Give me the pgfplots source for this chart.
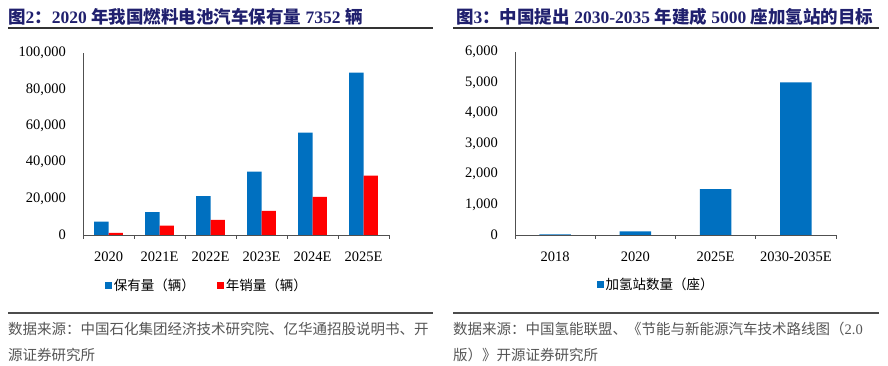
\documentclass[border=0pt]{standalone}
\usepackage{pgfplots}
\pgfplotsset{compat=1.18}
\usepackage{fontspec}
\setmainfont{Liberation Serif}
\newfontfamily\cjk{Noto Sans CJK SC}
\definecolor{barblue}{RGB}{0,112,192}
\definecolor{barred}{RGB}{255,0,0}
\definecolor{titlec}{RGB}{32,32,110}
\definecolor{axisc}{RGB}{80,80,80}
\definecolor{srcc}{RGB}{85,85,85}
\pgfplotsset{
  sqlegend/.style={legend image code/.code={\fill[fill=#1] (0pt,-3.5pt) rectangle (7pt,3.5pt);}},
  panel/.style={
    scale only axis,
    anchor=south west,
    ymin=0,
    axis x line*=bottom,
    axis y line*=left,
    axis line style={axisc, line width=0.8pt},
    x tick label as interval=true,
    tick align=inside,
    major tick length=4pt,
    x tick style={axisc, line width=0.8pt},
    y tick style={draw=none},
    scaled y ticks=false,
    /pgf/number format/fixed,
    /pgf/number format/1000 sep={,},
    /pgf/number format/assume math mode=true,
    tick label style={font=\fontsize{14.5}{16}\selectfont, inner sep=0pt},
    yticklabel style={anchor=east, xshift=-17pt},
    xticklabel style={anchor=north, yshift=-13pt},
    legend style={draw=none, fill=none, font=\cjk\fontsize{13.5}{15}\selectfont,
      anchor=center, legend columns=-1,
      /tikz/every even column/.append style={column sep=20pt}},
  }
}
\begin{document}
\begin{tikzpicture}
\path (0pt,0pt) rectangle (888pt,366pt);
% titles
\node[anchor=west, inner sep=0pt, text=titlec, font=\fontsize{17.5}{18}\selectfont\bfseries] at (8pt,349pt)
  {{\cjk 图}2{\cjk ：}2020 {\cjk 年我国燃料电池汽车保有量} 7352 {\cjk 辆}};
\node[anchor=west, inner sep=0pt, text=titlec, font=\fontsize{17.5}{18}\selectfont\bfseries] at (456pt,349pt)
  {{\cjk 图}3{\cjk ：中国提出} 2030-2035 {\cjk 年建成} 5000 {\cjk 座加氢站的目标}};
\draw[line width=1.2pt, black!80] (8pt,338pt) -- (433pt,338pt);
\draw[line width=1.2pt, black!80] (453pt,338pt) -- (879pt,338pt);
\draw[line width=1.2pt, black!70] (8pt,53pt) -- (433pt,53pt);
\draw[line width=1.2pt, black!70] (453pt,53pt) -- (879pt,53pt);
% sources
\node[anchor=west, inner sep=0pt, text=srcc, font=\cjk\fontsize{14.5}{16}\selectfont] at (8pt,37pt)
  {数据来源：中国石化集团经济技术研究院、亿华通招股说明书、开};
\node[anchor=west, inner sep=0pt, text=srcc, font=\cjk\fontsize{14.5}{16}\selectfont] at (8pt,11pt)
  {源证券研究所};
\node[anchor=west, inner sep=0pt, text=srcc, font=\cjk\fontsize{14.5}{16}\selectfont] at (453pt,37pt)
  {数据来源：中国氢能联盟、《节能与新能源汽车技术路线图（{\rmfamily 2.0}};
\node[anchor=west, inner sep=0pt, text=srcc, font=\cjk\fontsize{14.5}{16}\selectfont] at (453pt,11pt)
  {版）》开源证券研究所};

% left chart
\begin{axis}[panel,
  at={(83pt,131pt)}, width=306pt, height=182pt,
  ybar=0pt, bar width=14.3pt,
  xmin=-0.5, xmax=5.5, ymax=100000,
  ytick={0,20000,40000,60000,80000,100000},
  xtick={-0.5,0.5,1.5,2.5,3.5,4.5,5.5},
  xticklabels={2020,2021E,2022E,2023E,2024E,2025E},
  legend style={at={(0.405,-0.275)}},
]
\addplot[fill=barblue, draw=none, sqlegend=barblue] coordinates {(0,7352) (1,12500) (2,21400) (3,34800) (4,56200) (5,89200)};
\addplot[fill=barred, draw=none, sqlegend=barred] coordinates {(0,1177) (1,5200) (2,8300) (3,13200) (4,20900) (5,32600)};
\legend{保有量（辆）,年销量（辆）}
\end{axis}

% right chart
\begin{axis}[panel,
  at={(515pt,131pt)}, width=321pt, height=183pt,
  ybar, bar width=31.7pt,
  xmin=-0.5, xmax=3.5, ymax=6000,
  ytick={0,1000,2000,3000,4000,5000,6000},
  xtick={-0.5,0.5,1.5,2.5,3.5},
  xticklabels={2018,2020,2025E,2030-2035E},
  legend style={at={(0.44,-0.273)}},
]
\addplot[fill=barblue, draw=none, sqlegend=barblue] coordinates {(0,23) (1,118) (2,1500) (3,5000)};
\legend{加氢站数量（座）}
\end{axis}
\end{tikzpicture}
\end{document}
